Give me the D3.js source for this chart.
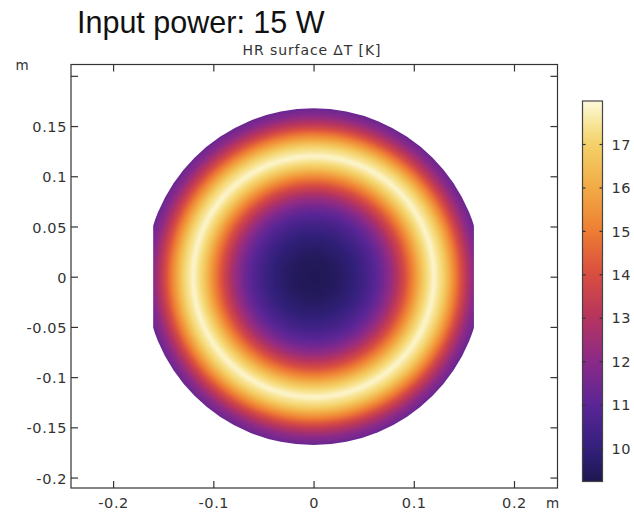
<!DOCTYPE html>
<html>
<head>
<meta charset="utf-8">
<script src="https://cdn.jsdelivr.net/npm/d3@7"></script>
<style>
  body { margin: 0; background: #fff; }
  svg { display: block; }
  .lbl { font-family: "DejaVu Sans", sans-serif; font-size: 14.5px; letter-spacing: 0.6px; fill: #333; }
</style>
</head>
<body>
<svg id="chart" width="634" height="515"></svg>
<script>
// radial profile of the HR surface temperature rise
const radius = [0, 0.02, 0.04, 0.05, 0.06, 0.07, 0.08, 0.09, 0.10, 0.11, 0.12, 0.13, 0.14, 0.15, 0.16, 0.168];
const deltaT = [9.3, 9.45, 9.9, 10.3, 10.8, 11.5, 12.5, 13.8, 15.3, 16.9, 17.9, 17.0, 15.3, 13.5, 12.0, 11.3];

// disk geometry (m)
const diskRadius = 0.168;
const flatEdge = 0.16;

// colour table
const cmapValues = [9.23, 10, 11, 12, 13, 14, 15, 16, 17, 17.5, 17.99];
const cmapColors = ['#1d1750', '#33207c', '#5b2596', '#8b2a88', '#b6345f', '#d84d40', '#ee7d33', '#f2ab45', '#f4d168', '#f8e69c', '#fdfadc'];

// ticks
const xTicks = [-0.2, -0.1, 0, 0.1, 0.2];
const yTicks = [-0.2, -0.15, -0.1, -0.05, 0, 0.05, 0.1, 0.15, 0.2];
const yLabels = [-0.2, -0.15, -0.1, -0.05, 0, 0.05, 0.1, 0.15];
const cTicks = [10, 11, 12, 13, 14, 15, 16, 17];

const plot = {left: 71, right: 557.5, top: 64.5, bottom: 488};
const bar = {left: 582.5, right: 602.5, top: 101, bottom: 481.5};

const svg = d3.select('#chart');

const x = d3.scaleLinear().domain([-0.242, 0.2434]).range([plot.left, plot.right]);
const y = d3.scaleLinear().domain([-0.2104, 0.2113]).range([plot.bottom, plot.top]);
const profile = d3.scaleLinear().domain(radius).range(deltaT);
const colour = d3.scaleLinear().domain(cmapValues).range(cmapColors).interpolate(d3.interpolateRgb);
const cScale = d3.scaleLinear().domain([9.23, 17.99]).range([bar.bottom, bar.top]);

const fmt = d => d === 0 ? '0' : String(+d.toFixed(2));

const defs = svg.append('defs');

// radial gradient from the profile
const rPx = x(diskRadius) - x(0);
const grad = defs.append('radialGradient')
    .attr('id', 'disk')
    .attr('gradientUnits', 'userSpaceOnUse')
    .attr('cx', x(0)).attr('cy', y(0)).attr('r', rPx);
grad.selectAll('stop')
    .data(d3.range(0, 1.0001, 0.01))
  .enter().append('stop')
    .attr('offset', f => f)
    .attr('stop-color', f => colour(profile(f * diskRadius)));

defs.append('clipPath').attr('id', 'cut')
  .append('rect')
    .attr('x', x(-flatEdge)).attr('width', x(flatEdge) - x(-flatEdge))
    .attr('y', plot.top).attr('height', plot.bottom - plot.top);

svg.append('g')
    .attr('clip-path', 'url(#cut)')
  .append('circle')
    .attr('cx', x(0)).attr('cy', y(0)).attr('r', rPx)
    .attr('fill', 'url(#disk)');

// axes, ticks inward
function style(g) {
  g.select('.domain').remove();
  g.selectAll('line').attr('stroke', '#333').attr('stroke-width', 1.2);
  g.selectAll('text').attr('class', 'lbl');
}

svg.append('g')
    .attr('transform', `translate(${plot.left},0)`)
    .call(d3.axisLeft(y).tickValues(yTicks).tickSize(-7).tickPadding(4)
      .tickFormat(d => yLabels.includes(d) ? fmt(d) : ''))
    .call(style)
    .selectAll('text').attr('dy', '0.38em');

svg.append('g')
    .attr('transform', `translate(${plot.right},0)`)
    .call(d3.axisRight(y).tickValues(yTicks).tickSize(-7).tickFormat(''))
    .call(style);

svg.append('g')
    .attr('transform', `translate(0,${plot.bottom})`)
    .call(d3.axisBottom(x).tickValues(xTicks).tickSize(-7).tickPadding(10).tickFormat(fmt))
    .call(style);

svg.append('g')
    .attr('transform', `translate(0,${plot.top})`)
    .call(d3.axisTop(x).tickValues(xTicks).tickSize(-7).tickFormat(''))
    .call(style);

svg.append('rect')
    .attr('x', plot.left).attr('y', plot.top)
    .attr('width', plot.right - plot.left).attr('height', plot.bottom - plot.top)
    .attr('fill', 'none').attr('stroke', '#333').attr('stroke-width', 1.2);

// unit labels
svg.append('text').attr('class', 'lbl').attr('x', 22.5).attr('y', 70)
    .attr('text-anchor', 'middle').style('font-size', '13.5px').text('m');
svg.append('text').attr('class', 'lbl').attr('x', 553).attr('y', 508)
    .attr('text-anchor', 'middle').style('font-size', '13.5px').text('m');

// titles
svg.append('text')
    .attr('x', 77).attr('y', 33)
    .style('font-family', '"Liberation Sans", Arial, sans-serif')
    .style('font-size', '30.5px').attr('fill', '#111')
    .text('Input power: 15 W');

svg.append('text')
    .attr('x', 312).attr('y', 55).attr('text-anchor', 'middle')
    .style('font-family', '"DejaVu Sans", sans-serif')
    .style('font-size', '14px').style('letter-spacing', '0.9px').attr('fill', '#333')
    .text('HR surface ΔT [K]');

// colour bar
const lg = defs.append('linearGradient')
    .attr('id', 'bar')
    .attr('gradientUnits', 'userSpaceOnUse')
    .attr('x1', 0).attr('x2', 0).attr('y1', bar.bottom).attr('y2', bar.top);
lg.selectAll('stop')
    .data(d3.range(0, 1.0001, 0.02))
  .enter().append('stop')
    .attr('offset', f => f)
    .attr('stop-color', f => colour(cScale.invert(bar.bottom - f * (bar.bottom - bar.top))));

svg.append('rect')
    .attr('x', bar.left).attr('y', bar.top)
    .attr('width', bar.right - bar.left).attr('height', bar.bottom - bar.top)
    .attr('fill', 'url(#bar)').attr('stroke', '#444').attr('stroke-width', 1.2);

svg.append('g')
    .attr('transform', `translate(${bar.right},0)`)
    .call(d3.axisRight(cScale).tickValues(cTicks).tickSize(-3).tickPadding(9).tickFormat(d3.format('d')))
    .call(style)
    .selectAll('text').attr('dy', '0.36em');

svg.append('g')
    .attr('transform', `translate(${bar.left},0)`)
    .call(d3.axisLeft(cScale).tickValues(cTicks).tickSize(-3).tickFormat(''))
    .call(style);
</script>
</body>
</html>
